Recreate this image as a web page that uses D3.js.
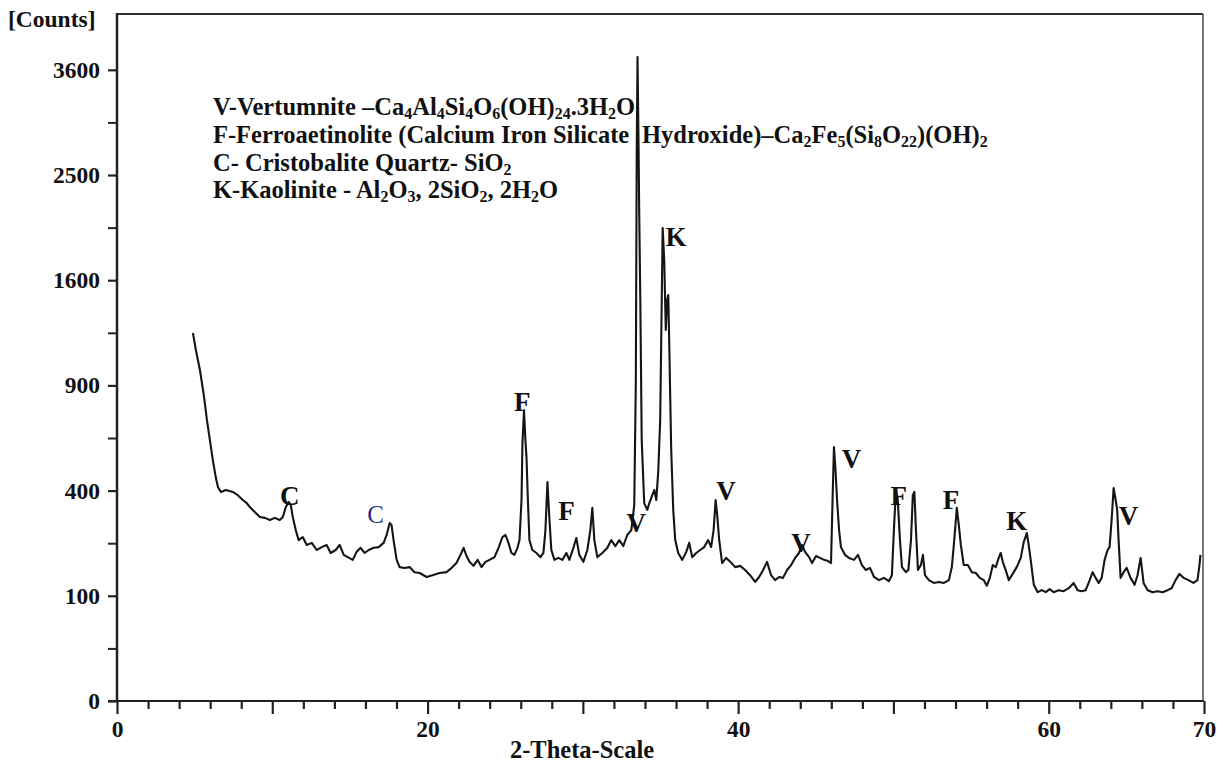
<!DOCTYPE html>
<html><head><meta charset="utf-8">
<script src="https://cdn.jsdelivr.net/npm/d3@7"></script>
<style>body{margin:0;background:#fff}svg{display:block}</style>
</head><body>
<svg id="c" width="1223" height="766"></svg>
<script>
const twoTheta = [4.89,5.08,5.34,5.59,5.79,5.98,6.17,6.37,6.50,6.69,7.01,7.46,7.78,8.10,8.36,8.55,8.87,9.20,9.52,9.84,10.16,10.48,10.68,10.87,11.06,11.19,11.32,11.51,11.70,11.96,12.22,12.54,12.86,13.18,13.50,13.76,14.08,14.34,14.60,14.86,15.18,15.43,15.69,15.95,16.21,16.53,16.85,17.17,17.36,17.56,17.68,17.81,18.01,18.20,18.52,18.84,19.16,19.49,19.94,20.32,20.77,21.22,21.54,21.86,22.12,22.32,22.51,22.70,22.96,23.22,23.47,23.73,23.99,24.31,24.57,24.82,25.02,25.21,25.40,25.59,25.79,25.92,26.05,26.11,26.21,26.30,26.37,26.46,26.56,26.75,27.01,27.27,27.46,27.59,27.72,27.78,27.85,27.97,28.17,28.42,28.68,28.94,29.13,29.39,29.58,29.77,30.03,30.29,30.48,30.61,30.74,30.93,31.25,31.58,31.83,32.09,32.35,32.60,32.86,33.12,33.31,33.41,33.47,33.52,33.59,33.63,33.70,33.79,33.95,34.15,34.28,34.47,34.60,34.73,34.86,34.98,35.08,35.14,35.24,35.34,35.43,35.50,35.56,35.63,35.69,35.82,35.95,36.14,36.40,36.66,36.85,37.04,37.30,37.56,37.81,38.07,38.26,38.42,38.55,38.65,38.78,38.97,39.23,39.49,39.81,40.13,40.45,40.77,41.09,41.35,41.61,41.86,42.12,42.38,42.64,42.89,43.15,43.41,43.67,43.92,44.12,44.31,44.57,44.76,45.02,45.27,45.53,45.79,45.98,46.08,46.17,46.27,46.37,46.50,46.62,46.88,47.14,47.46,47.72,47.97,48.23,48.49,48.75,49.07,49.39,49.71,49.90,50.03,50.16,50.28,50.42,50.55,50.80,50.96,51.13,51.25,51.35,51.45,51.58,51.77,51.90,52.03,52.28,52.60,52.93,53.25,53.57,53.76,53.89,54.02,54.08,54.21,54.34,54.53,54.79,55.05,55.31,55.56,55.82,56.01,56.21,56.40,56.59,56.78,56.91,57.04,57.23,57.43,57.68,57.94,58.20,58.39,58.59,58.71,58.84,59.04,59.29,59.55,59.81,60.06,60.32,60.64,60.96,61.29,61.61,61.86,62.12,62.38,62.64,62.83,63.02,63.22,63.41,63.60,63.79,63.92,64.05,64.18,64.31,64.41,64.50,64.63,64.82,65.02,65.27,65.53,65.72,65.92,66.11,66.37,66.69,67.01,67.33,67.65,67.91,68.17,68.42,68.68,69.00,69.32,69.58,69.71,69.77];
const counts = [1224,1113,990,846,714,616,525,449,414,395,402,395,383,365,354,340,323,306,303,296,303,296,306,340,358,347,306,264,234,243,220,226,206,214,220,198,206,220,193,187,180,201,212,198,206,212,214,226,249,286,280,234,180,162,160,162,150,148,139,143,148,150,160,172,193,212,190,175,165,180,162,175,180,187,212,243,249,226,198,193,212,234,365,601,765,616,538,365,234,206,198,187,198,264,433,365,296,206,180,185,180,198,180,212,240,193,175,206,264,337,234,187,198,212,234,217,234,217,249,264,347,914,2743,3747,2743,2152,1453,616,354,330,354,383,402,365,482,714,1453,2022,1757,1244,1453,1489,1178,819,569,330,234,198,180,201,226,187,198,206,214,234,214,264,365,313,234,172,185,175,162,165,155,143,128,139,155,175,143,132,139,137,155,167,185,198,220,201,187,172,190,185,180,177,172,365,583,482,365,264,214,193,185,180,193,167,155,160,139,132,137,130,143,264,402,365,234,162,150,155,234,383,395,264,155,167,193,143,132,126,128,126,132,162,220,296,337,280,220,167,167,150,148,137,132,120,137,167,162,185,198,175,155,132,146,162,185,228,255,220,180,122,107,111,107,113,107,111,109,115,126,111,109,111,132,150,137,126,137,180,206,214,296,410,365,330,234,137,150,160,137,122,143,185,126,111,107,109,107,111,115,132,146,137,132,126,132,167,193];

const yTickValues = [0,100,400,900,1600,2500,3600];
const yMinorValues = [25,225,625,1225,2025,3025];
const xTickStep = 2;
const xTickLabels = [0,20,40,60,70];

const peakLetters = ["C","C","F","F","V","K","V","V","V","F","F","K","V"];
const peakTheta   = [11.13,16.66,26.1,28.94,33.44,36.0,39.22,44.05,47.3,50.35,53.7,57.94,65.14];
const peakCounts  = [347,286,760,296,258,1871,365,201,490,347,333,264,280];

const yAxisTitle = "[Counts]";
const xAxisTitle = "2-Theta-Scale";

const legendLines = [
  [["V-Vertumnite \u2013Ca",0],["4",1],["Al",0],["4",1],["Si",0],["4",1],["O",0],["6",1],["(OH)",0],["24",1],[".3H",0],["2",1],["O",0]],
  [["F-Ferroaetinolite (Calcium Iron Silicate",0]],
  [["C- Cristobalite Quartz- SiO",0],["2",1]],
  [["K-Kaolinite - Al",0],["2",1],["O",0],["3",1],[", 2SiO",0],["2",1],[", 2H",0],["2",1],["O",0]]
];
const legendLine2b = [["Hydroxide)\u2013Ca",0],["2",1],["Fe",0],["5",1],["(Si",0],["8",1],["O",0],["22",1],[")(OH)",0],["2",1]];

(function(){
const W = 1223, H = 766;
const pL = 117, pR = 1204, pT = 14, pB = 701;
const svg = d3.select("#c");
svg.append("rect").attr("width",W).attr("height",H).attr("fill","#fff");
const FONT = "'Liberation Serif','Times New Roman',serif";

const x = d3.scaleLinear().domain([0,70]).range([pL,pR]);
const y = d3.scaleSqrt().domain([0,4265]).range([pB,pT]);

svg.append("line").attr("x1",pL).attr("x2",pR-1).attr("y1",pT).attr("y2",pT).attr("stroke","#333").attr("stroke-width",2);
svg.append("line").attr("x1",pR-1).attr("x2",pR-1).attr("y1",pT).attr("y2",pB).attr("stroke","#555").attr("stroke-width",1.6);

const yAxis = d3.axisLeft(y).tickValues(yTickValues).tickSize(9).tickPadding(8).tickFormat(d3.format("d"));
const gy = svg.append("g").attr("transform",`translate(${pL},0)`).call(yAxis);
gy.select(".domain").remove();
gy.selectAll(".tick line").attr("stroke","#222").attr("stroke-width",2.2);
gy.selectAll(".tick text").attr("font-family",FONT).attr("font-weight","bold").attr("font-size",23.5).attr("fill","#111");
const yMinor = d3.axisLeft(y).tickValues(yMinorValues).tickSize(9).tickFormat("");
const gym = svg.append("g").attr("transform",`translate(${pL},0)`).call(yMinor);
gym.select(".domain").remove();
gym.selectAll(".tick line").attr("stroke","#222").attr("stroke-width",2);

const xAxis = d3.axisBottom(x).tickValues(d3.range(0,70.01,xTickStep)).tickSize(8)
  .tickFormat(d => xTickLabels.includes(d) ? String(d) : "");
const gx = svg.append("g").attr("transform",`translate(0,${pB})`).call(xAxis);
gx.select(".domain").remove();
gx.selectAll(".tick line").attr("stroke","#222").attr("stroke-width",2.2)
  .attr("y2", d => d % 10 === 0 ? 13 : 8);
gx.selectAll(".tick text").attr("font-family",FONT).attr("font-weight","bold").attr("font-size",23.5).attr("fill","#111")
  .attr("y",36).attr("dy",0);

svg.append("line").attr("x1",pL).attr("x2",pL).attr("y1",pT-1).attr("y2",pB+1).attr("stroke","#222").attr("stroke-width",2.5);
svg.append("line").attr("x1",pL-9).attr("x2",pR).attr("y1",pB).attr("y2",pB).attr("stroke","#222").attr("stroke-width",2.2);

const pts = twoTheta.map((t,i)=>[t,counts[i]]);
const line = d3.line().x(d=>x(d[0])).y(d=>y(d[1]));
svg.append("path").datum(pts).attr("d",line).attr("fill","none").attr("stroke","#151515")
  .attr("stroke-width",2.1).attr("stroke-linejoin","round");

svg.append("text").attr("x",8).attr("y",27).text(yAxisTitle)
  .attr("font-family",FONT).attr("font-weight","bold").attr("font-size",23.5).attr("fill","#111");
svg.append("text").attr("x",582).attr("y",758).attr("text-anchor","middle").text(xAxisTitle)
  .attr("font-family",FONT).attr("font-weight","bold").attr("font-size",24.5).attr("fill","#111");

function writeSegs(t, segs){
  let sub = false;
  segs.forEach(([s,isSub])=>{
    const ts = t.append("tspan").text(s);
    if (isSub && !sub){ ts.attr("dy",4).attr("font-size",16); sub = true; }
    else if (isSub){ ts.attr("font-size",16); }
    else if (!isSub && sub){ ts.attr("dy",-4); sub = false; }
  });
}
const legY = [115,143,171,198];
legendLines.forEach((segs,i)=>{
  const t = svg.append("text").attr("x",213).attr("y",legY[i])
    .attr("font-family",FONT).attr("font-weight","bold").attr("font-size",24.5).attr("fill","#111");
  writeSegs(t, segs);
});
const t2 = svg.append("text").attr("x",642).attr("y",legY[1])
  .attr("font-family",FONT).attr("font-weight","bold").attr("font-size",24.5).attr("fill","#111");
writeSegs(t2, legendLine2b);

peakLetters.forEach((L,i)=>{
  const blue = i===1;
  svg.append("text").attr("x",x(peakTheta[i])).attr("y",y(peakCounts[i]))
    .attr("text-anchor","middle").text(L)
    .attr("font-family",FONT).attr("font-weight", blue ? "normal" : "bold")
    .attr("font-size", blue ? 25 : 27).attr("fill", blue ? "#2b2f8a" : "#111");
});
})();
</script>
</body></html>
